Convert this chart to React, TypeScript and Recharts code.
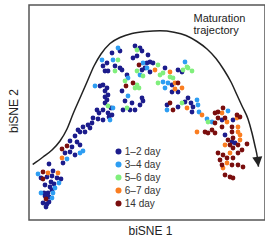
import React from 'react';
import { ComposedChart, Scatter, Line, XAxis, YAxis, ReferenceArea, Legend, Customized } from 'recharts';

type P = { x: number; y: number };

const FONT = '"Liberation Sans", Arial, Helvetica, sans-serif';

const day12: P[] = [
  { x: 20, y: 56 }, { x: 24, y: 49 }, { x: 12, y: 42 }, { x: 18, y: 43 }, { x: 23, y: 44 },
  { x: 28, y: 42 }, { x: 32, y: 41 }, { x: 22, y: 38 }, { x: 25, y: 36 }, { x: 16, y: 35 },
  { x: 21, y: 33 }, { x: 23, y: 30 }, { x: 15, y: 27 }, { x: 19, y: 27 }, { x: 16, y: 24 },
  { x: 20, y: 23 }, { x: 14, y: 17 }, { x: 18, y: 16 }, { x: 20, y: 18 }, { x: 17, y: 13 },
  { x: 34, y: 57 }, { x: 36, y: 67 }, { x: 41, y: 68 }, { x: 46, y: 65 }, { x: 43, y: 73 },
  { x: 48, y: 78 }, { x: 51, y: 75 }, { x: 41, y: 79 }, { x: 46, y: 84 }, { x: 51, y: 88 },
  { x: 49, y: 90 }, { x: 56, y: 88 }, { x: 54, y: 93 }, { x: 59, y: 95 }, { x: 61, y: 92 },
  { x: 63, y: 97 }, { x: 64, y: 102 }, { x: 68, y: 110 }, { x: 70, y: 107 }, { x: 69, y: 101 },
  { x: 74, y: 100 }, { x: 80, y: 103 }, { x: 82, y: 112 }, { x: 76, y: 117 }, { x: 76, y: 123 },
  { x: 71, y: 134 }, { x: 78, y: 132 },
  { x: 91, y: 169 }, { x: 106, y: 174 }, { x: 111, y: 172 }, { x: 113, y: 169 }, { x: 83, y: 167 },
  { x: 78, y: 157 }, { x: 74, y: 154 }, { x: 86, y: 154 }, { x: 91, y: 152 }, { x: 76, y: 149 },
  { x: 79, y: 149 }, { x: 93, y: 150 }, { x: 104, y: 162 }, { x: 108, y: 164 }, { x: 113, y: 150 },
  { x: 116, y: 152 }, { x: 98, y: 145 }, { x: 74, y: 135 }, { x: 76, y: 129 }, { x: 79, y: 125 },
  { x: 78, y: 120 }, { x: 74, y: 110 }, { x: 79, y: 107 }, { x: 83, y: 105 }, { x: 93, y: 129 },
  { x: 96, y: 119 }, { x: 103, y: 117 }, { x: 101, y: 110 }, { x: 111, y: 115 }, { x: 114, y: 119 },
  { x: 113, y: 122 }, { x: 106, y: 110 }, { x: 94, y: 110 },
  { x: 118, y: 157 }, { x: 121, y: 158 }, { x: 124, y: 157 }, { x: 119, y: 165 }, { x: 121, y: 148 },
  { x: 136, y: 152 }, { x: 149, y: 150 }, { x: 153, y: 148 }, { x: 143, y: 135 }, { x: 143, y: 128 },
  { x: 149, y: 128 }, { x: 159, y: 122 }, { x: 156, y: 118 }, { x: 162, y: 117 }, { x: 138, y: 115 },
  { x: 149, y: 113 }, { x: 164, y: 113 }, { x: 163, y: 108 },
  { x: 193, y: 100 }, { x: 204, y: 100 }, { x: 196, y: 85 }, { x: 206, y: 77 }, { x: 203, y: 78 },
];

const day34: P[] = [
  { x: 9, y: 46 }, { x: 30, y: 37 }, { x: 26, y: 32 }, { x: 12, y: 27 }, { x: 24, y: 27 },
  { x: 23, y: 22 }, { x: 51, y: 67 }, { x: 54, y: 69 }, { x: 38, y: 61 }, { x: 66, y: 134 },
  { x: 81, y: 100 }, { x: 89, y: 172 }, { x: 73, y: 160 }, { x: 84, y: 160 }, { x: 114, y: 157 },
  { x: 111, y: 145 }, { x: 99, y: 142 }, { x: 84, y: 112 }, { x: 99, y: 124 }, { x: 118, y: 152 },
  { x: 156, y: 158 }, { x: 134, y: 138 }, { x: 139, y: 137 }, { x: 136, y: 132 }, { x: 168, y: 120 },
  { x: 169, y: 115 }, { x: 138, y: 110 }, { x: 170, y: 108 }, { x: 178, y: 101 }, { x: 183, y: 98 },
  { x: 199, y: 109 },
];

const day56: P[] = [
  { x: 108, y: 170 }, { x: 89, y: 160 }, { x: 86, y: 149 }, { x: 108, y: 149 }, { x: 114, y: 144 },
  { x: 96, y: 139 }, { x: 108, y: 135 }, { x: 110, y: 132 }, { x: 106, y: 132 }, { x: 79, y: 114 },
  { x: 98, y: 112 }, { x: 129, y: 155 }, { x: 131, y: 145 }, { x: 134, y: 147 }, { x: 141, y: 143 },
  { x: 144, y: 142 }, { x: 158, y: 153 }, { x: 154, y: 150 }, { x: 159, y: 152 }, { x: 163, y: 149 },
  { x: 129, y: 137 }, { x: 153, y: 117 }, { x: 179, y: 98 },
];

const day67: P[] = [
  { x: 19, y: 47 }, { x: 29, y: 47 }, { x: 33, y: 62 }, { x: 126, y: 150 }, { x: 141, y: 148 },
  { x: 146, y: 137 }, { x: 146, y: 131 }, { x: 153, y: 132 }, { x: 158, y: 112 }, { x: 173, y: 105 },
  { x: 193, y: 107 }, { x: 198, y: 98 }, { x: 208, y: 102 }, { x: 209, y: 93 }, { x: 168, y: 88 },
  { x: 209, y: 88 }, { x: 211, y: 85 }, { x: 211, y: 80 }, { x: 196, y: 75 }, { x: 201, y: 67 },
  { x: 198, y: 57 }, { x: 194, y: 52 },
];

const day14: P[] = [
  { x: 14, y: 48 }, { x: 14, y: 41 }, { x: 17, y: 21 }, { x: 38, y: 74 }, { x: 33, y: 71 },
  { x: 110, y: 155 }, { x: 97, y: 134 }, { x: 104, y: 137 }, { x: 149, y: 137 }, { x: 141, y: 117 },
  { x: 144, y: 110 }, { x: 186, y: 107 }, { x: 189, y: 108 }, { x: 194, y: 112 }, { x: 189, y: 102 },
  { x: 186, y: 97 }, { x: 196, y: 102 }, { x: 208, y: 105 }, { x: 211, y: 103 }, { x: 193, y: 93 },
  { x: 203, y: 93 }, { x: 176, y: 88 }, { x: 179, y: 87 }, { x: 183, y: 90 }, { x: 186, y: 87 },
  { x: 203, y: 88 }, { x: 199, y: 80 }, { x: 204, y: 82 }, { x: 201, y: 75 }, { x: 209, y: 75 },
  { x: 218, y: 76 }, { x: 213, y: 70 }, { x: 204, y: 72 }, { x: 189, y: 67 }, { x: 194, y: 65 },
  { x: 209, y: 67 }, { x: 191, y: 60 }, { x: 198, y: 62 }, { x: 204, y: 62 }, { x: 193, y: 55 },
  { x: 203, y: 55 }, { x: 209, y: 55 }, { x: 196, y: 45 }, { x: 201, y: 43 }, { x: 204, y: 42 },
  { x: 214, y: 53 },
];

const trajectory: P[] = [
  { x: 3.7, y: 55.5 }, { x: 14, y: 63 }, { x: 23, y: 70 }, { x: 31, y: 79 }, { x: 38, y: 91 },
  { x: 44, y: 106 }, { x: 51, y: 122 }, { x: 58, y: 138 }, { x: 65, y: 154 }, { x: 72, y: 166 },
  { x: 81, y: 176.5 }, { x: 91, y: 182.5 }, { x: 103, y: 186.5 }, { x: 117, y: 188.5 }, { x: 131, y: 189.2 },
  { x: 145, y: 187.8 }, { x: 157, y: 184.5 }, { x: 168, y: 178.5 }, { x: 178, y: 171 }, { x: 187, y: 161.5 },
  { x: 195, y: 150 }, { x: 202, y: 138 }, { x: 208, y: 125 }, { x: 213.5, y: 113 }, { x: 219, y: 101 },
  { x: 223, y: 87 }, { x: 226, y: 74 }, { x: 228.3, y: 63 }, { x: 229.5, y: 53.3 },
];

const arrowTip: P[] = [trajectory[trajectory.length - 1]];

const seriesNames = ['1–2 day', '3–4 day', '5–6 day', '6–7 day', '14 day'];
const seriesColors = ['#1c1c8c', '#2d9df2', '#80ef7c', '#fa7d20', '#7a0e0e'];
const seriesData = [day12, day34, day56, day67, day14];

const makeDot = (color: string) => (props: any) => (
  <circle cx={props.cx} cy={props.cy} r={2.4} fill={color} />
);

const ArrowHead = (props: any) => {
  const { cx, cy } = props;
  return (
    <polygon
      points={`${cx},${cy} ${cx - 5},${cy - 10} ${cx + 5},${cy - 10}`}
      transform={`rotate(-7 ${cx} ${cy})`}
      fill="#222"
    />
  );
};

const LegendContent = () => (
  <div style={{ fontFamily: FONT, fontSize: 10, color: '#333', lineHeight: '13px' }}>
    {seriesNames.map((n, i) => (
      <div key={n} style={{ display: 'flex', alignItems: 'center', height: 13, whiteSpace: 'nowrap' }}>
        <svg width={7} height={7} style={{ marginRight: 3, display: 'block' }}>
          <circle cx={3.5} cy={3.5} r={3} fill={seriesColors[i]} />
        </svg>
        <span>{n}</span>
      </div>
    ))}
  </div>
);

const Texts = () => (
  <g fontFamily={FONT} fill="#222">
    <text x={150.5} y={235} fontSize={12} textAnchor="middle">biSNE 1</text>
    <text transform="translate(17.5,111) rotate(-90)" fontSize={12} textAnchor="middle">biSNE 2</text>
    <text x={193.5} y={21.7} fontSize={11}>Maturation</text>
    <text x={193.5} y={33.7} fontSize={11}>trajectory</text>
  </g>
);

export default function App() {
  return (
    <div style={{ position: 'absolute', left: 0, top: 0, background: '#fff' }}>
      <ComposedChart width={265} height={241} margin={{ top: 5, right: 0, bottom: 21, left: 29 }}>
        <XAxis type="number" dataKey="x" domain={[0, 236]} hide allowDataOverflow />
        <YAxis type="number" dataKey="y" domain={[0, 215]} hide allowDataOverflow />
        <ReferenceArea x1={0} x2={236} y1={0} y2={215} fill="none" stroke="#555" strokeWidth={1.5} ifOverflow="visible" />
        <Line
          data={trajectory}
          dataKey="y"
          type="monotone"
          stroke="#222"
          strokeWidth={1.5}
          dot={false}
          isAnimationActive={false}
          legendType="none"
        />
        <Scatter data={arrowTip} shape={ArrowHead} isAnimationActive={false} legendType="none" />
        {seriesData.map((d, i) => (
          <Scatter
            key={seriesNames[i]}
            name={seriesNames[i]}
            data={d}
            fill={seriesColors[i]}
            shape={makeDot(seriesColors[i])}
            isAnimationActive={false}
          />
        ))}
        <Legend
          layout="vertical"
          align="center"
          verticalAlign="middle"
          content={LegendContent}
          wrapperStyle={{ left: 114.8, top: 145.2, width: 'auto' }}
        />
        <Customized component={Texts} />
      </ComposedChart>
    </div>
  );
}
